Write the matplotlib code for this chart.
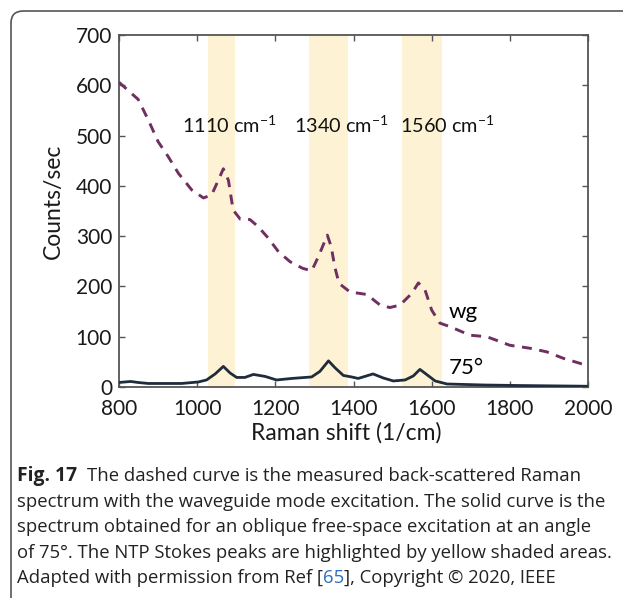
import matplotlib
matplotlib.use("Agg")
import matplotlib.pyplot as plt
from matplotlib.patches import FancyBboxPatch

# ---- data ----
wg_x = [800, 849, 875, 900, 926, 952, 986, 1016, 1037, 1054, 1067, 1080, 1092, 1110,
        1135, 1156, 1182, 1208, 1238, 1270, 1293, 1310, 1333, 1343, 1352, 1363, 1391,
        1434, 1468, 1493, 1519, 1549, 1566, 1583, 1600, 1621, 1647, 1698, 1741, 1800,
        1852, 1894, 1937, 1984, 2000]
wg_y = [606, 572, 531, 488, 458, 425, 392, 376, 382, 411, 434, 411, 352, 334,
        333, 319, 296, 269, 249, 236, 231, 259, 302, 279, 239, 206, 189,
        184, 163, 158, 163, 186, 207, 193, 153, 127, 120, 103, 100, 83,
        77, 70, 57, 46, 43]

a75_x = [800, 830, 849, 875, 960, 1003, 1024, 1046, 1067, 1084, 1101, 1122, 1144, 1174,
         1203, 1242, 1293, 1314, 1336, 1353, 1374, 1395, 1412, 1450, 1476, 1502, 1532,
         1553, 1570, 1587, 1609, 1639, 1733, 1818, 2000]
a75_y = [9, 11, 9, 7, 7, 10, 14, 26, 41, 28, 19, 19, 25, 21,
         14, 17, 20, 31, 52, 38, 23, 20, 17, 26, 18, 12, 14,
         22, 35, 25, 12, 6, 4, 3, 1.5]

bands = [(1028, 1098), (1287, 1387), (1523, 1626)]
band_labels = ["1110", "1340", "1560"]

x_ticks = [800, 1000, 1200, 1400, 1600, 1800, 2000]
y_ticks = [0, 100, 200, 300, 400, 500, 600, 700]

caption_lines = [
    "The dashed curve is the measured back-scattered Raman",
    "spectrum with the waveguide mode excitation. The solid curve is the",
    "spectrum obtained for an oblique free-space excitation at an angle",
    "of 75°. The NTP Stokes peaks are highlighted by yellow shaded areas.",
]

# ---- figure ----
W, H = 623, 598
fig = plt.figure(figsize=(W / 100, H / 100), dpi=100)
plt.rcParams['mathtext.default'] = 'regular'
chart_font = 'Lato'
cap_font = 'Open Sans'

# border
border = FancyBboxPatch((11 / W, -20 / H), 700 / W, (H - 11 + 20) / H,
                        boxstyle="round,pad=0,rounding_size=0.02",
                        transform=fig.transFigure, fill=False,
                        edgecolor='#555555', linewidth=1.2)
fig.patches.append(border)

ax = fig.add_axes([119 / W, 1 - 387 / H, (588 - 119) / W, (387 - 35) / H])
for (a, b) in bands:
    ax.axvspan(a, b, color='#FDF3D4', lw=0, zorder=0)

ax.plot(wg_x, wg_y, color='#6F2F60', lw=2.1, dashes=(3.4, 2.6), zorder=3)
ax.plot(a75_x, a75_y, color='#1F2C3C', lw=2.0, zorder=3)

ax.set_xlim(800, 2000)
ax.set_ylim(0, 700)
ax.set_xticks(x_ticks)
ax.set_yticks(y_ticks)
ax.tick_params(direction='in', length=4, width=1, color='#555555',
               top=True, right=True, labelsize=15)
ax.tick_params(axis='x', pad=8.5)
ax.tick_params(axis='y', pad=5)
for lab in ax.get_xticklabels() + ax.get_yticklabels():
    lab.set_fontfamily(chart_font)
    lab.set_color('#1a1a1a')
for s in ax.spines.values():
    s.set_color('#555555')
    s.set_linewidth(1.3)

ax.set_xlabel("Raman shift (1/cm)", fontsize=16.5, fontfamily=chart_font, color='#1a1a1a')
ax.set_ylabel("Counts/sec", fontsize=16.5, fontfamily=chart_font, color='#1a1a1a')
ax.xaxis.set_label_coords(0.484, -0.131)
ax.yaxis.set_label_coords(-0.139, 0.528)
ax.xaxis.label.set_va('center')
ax.yaxis.label.set_va('center')

label_pos = [1081, 1368, 1639]
for lx, lab in zip(label_pos, band_labels):
    ax.text(lx, 521, lab + " cm$^{-1}$", fontsize=14.3, fontfamily=chart_font,
            ha='center', va='center', color='#111111')

ax.text(1643, 150, "wg", fontsize=16, fontfamily=chart_font, ha='left', va='center')
ax.text(1643, 37, "75°", fontsize=16, fontfamily=chart_font, ha='left', va='center')

# caption
cap_fs = 13.3
x0 = 17 / W
line_y = [476, 502, 527, 553, 578]
renderer = fig.canvas.get_renderer()

t = fig.text(x0, 1 - line_y[0] / H, "Fig. 17", fontsize=cap_fs + 0.6, fontweight='bold',
             fontfamily=cap_font, va='center', ha='left', color='#222222')
bb = t.get_window_extent(renderer)
fig.text(bb.x1 / W + 10 / W, 1 - line_y[0] / H, caption_lines[0], fontsize=cap_fs,
         fontfamily=cap_font, va='center', ha='left', color='#222222')
for i in range(1, 4):
    fig.text(x0, 1 - line_y[i] / H, caption_lines[i], fontsize=cap_fs,
             fontfamily=cap_font, va='center', ha='left', color='#222222')

t1 = fig.text(x0, 1 - line_y[4] / H, "Adapted with permission from Ref [", fontsize=cap_fs,
              fontfamily=cap_font, va='center', ha='left', color='#222222')
b1 = t1.get_window_extent(renderer)
t2 = fig.text(b1.x1 / W, 1 - line_y[4] / H, "65", fontsize=cap_fs,
              fontfamily=cap_font, va='center', ha='left', color='#2a6ebd')
b2 = t2.get_window_extent(renderer)
fig.text(b2.x1 / W, 1 - line_y[4] / H, "], Copyright © 2020, IEEE", fontsize=cap_fs,
         fontfamily=cap_font, va='center', ha='left', color='#222222')

fig.savefig("out.png", dpi=100)
